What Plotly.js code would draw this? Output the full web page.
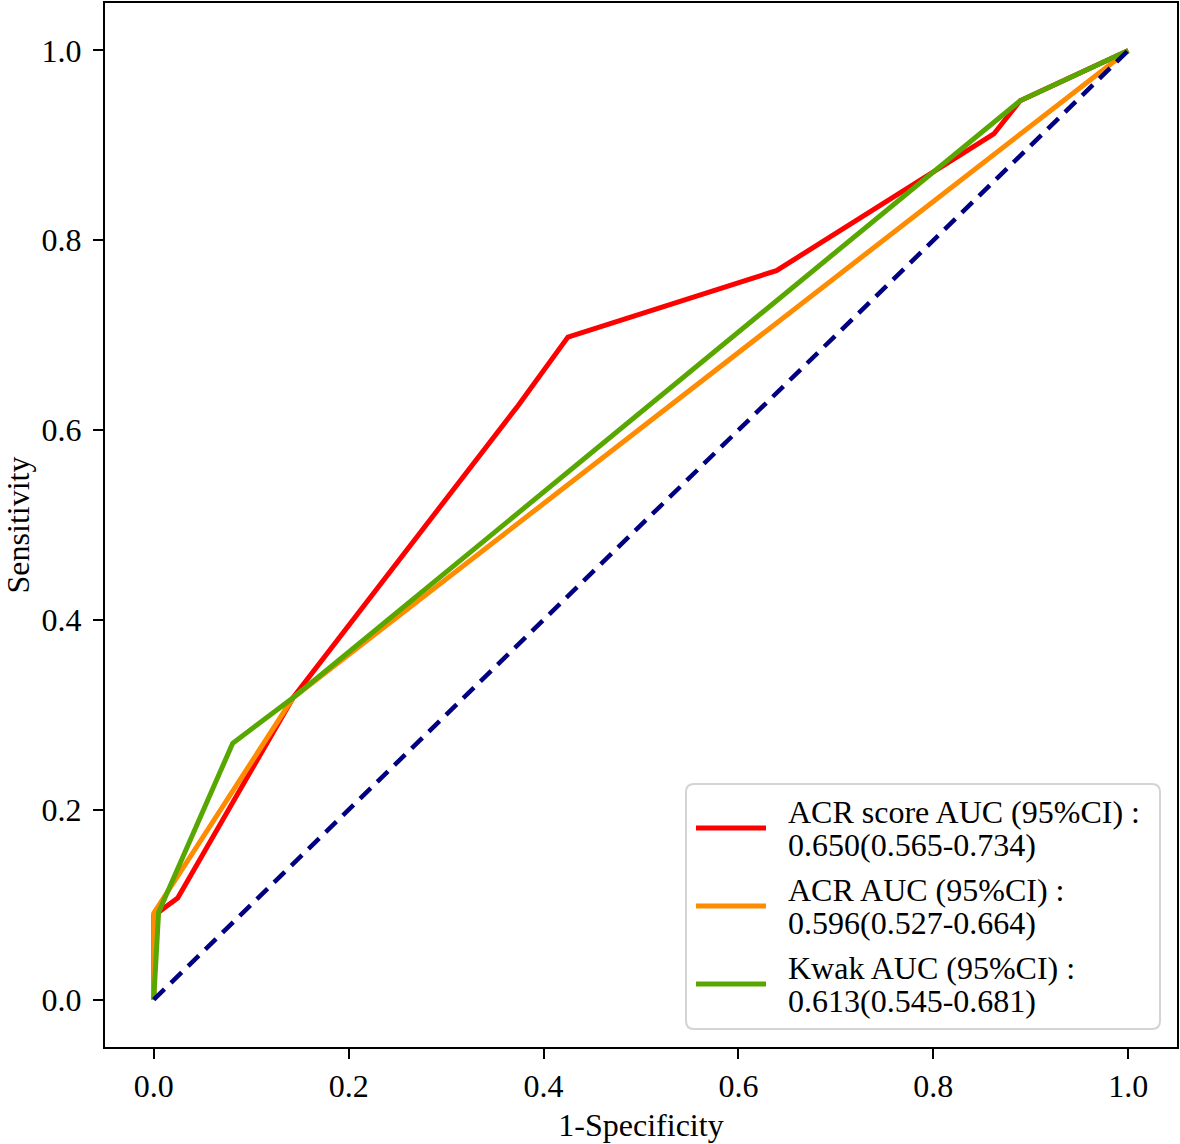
<!DOCTYPE html>
<html>
<head>
<meta charset="utf-8">
<script src="https://cdn.plot.ly/plotly-3.0.1.min.js"></script>
<style>html,body{margin:0;padding:0;background:#fff;}#chart{width:1180px;height:1144px;}</style>
</head>
<body>
<div id="chart"></div>
<script>
// ROC curve data
const scoreFpr = [0, 0, 0.010, 0.0246, 0.143, 0.374, 0.425, 0.639, 0.862, 0.889, 1];
const scoreTpr = [0, 0.088, 0.096, 0.107, 0.318, 0.626, 0.698, 0.768, 0.912, 0.947, 1];
const acrFpr = [0, 0, 0.143, 1];
const acrTpr = [0, 0.091, 0.318, 1];
const kwakFpr = [0, 0.005, 0.081, 0.143, 0.889, 1];
const kwakTpr = [0, 0.092, 0.270, 0.318, 0.947, 1];
const diagX = [0, 1];
const diagY = [0, 1];
const seriesLabels = ['ACR score AUC (95%CI) :', 'ACR AUC (95%CI) :', 'Kwak AUC (95%CI) :'];
const seriesAuc = ['0.650(0.565-0.734)', '0.596(0.527-0.664)', '0.613(0.545-0.681)'];
const seriesColors = ['#ff0000', '#ff8c00', '#58a700'];
const tickVals = [0, 0.2, 0.4, 0.6, 0.8, 1.0];
const tickText = ['0.0', '0.2', '0.4', '0.6', '0.8', '1.0'];

const FONT = 'Liberation Serif, Times New Roman, serif';
const FS = 32;

// plot-area geometry (pixels) used to place the hand-built legend
const W = 1180, H = 1144;
const M = {l: 105, r: 3, t: 3, b: 97};
const PW = W - M.l - M.r, PH = H - M.t - M.b;
const px = v => (v - M.l) / PW;
const py = v => (H - M.b - v) / PH;

const traces = [
  {x: scoreFpr, y: scoreTpr, mode: 'lines', name: seriesLabels[0], line: {color: seriesColors[0], width: 5}},
  {x: acrFpr, y: acrTpr, mode: 'lines', name: seriesLabels[1], line: {color: seriesColors[1], width: 5}},
  {x: kwakFpr, y: kwakTpr, mode: 'lines', name: seriesLabels[2], line: {color: seriesColors[2], width: 5}},
  {x: diagX, y: diagY, mode: 'lines', line: {color: '#000080', width: 4.5, dash: '15px,9px'}}
];

const axisCommon = {
  range: [-0.05, 1.05],
  tickvals: tickVals,
  ticktext: tickText,
  ticks: 'outside',
  ticklen: 10,
  tickwidth: 2,
  tickcolor: '#000',
  showline: true,
  linecolor: '#000',
  linewidth: 2,
  mirror: true,
  showgrid: false,
  zeroline: false,
  tickfont: {family: FONT, size: FS, color: '#000'}
};

// legend box (rounded) and items
const bx0 = px(686), bx1 = px(1160), by0 = py(1029), by1 = py(784);
const rx = 8 / PW, ry = 8 / PH;
const boxPath = `M${bx0 + rx},${by0} L${bx1 - rx},${by0} Q${bx1},${by0} ${bx1},${by0 + ry} ` +
  `L${bx1},${by1 - ry} Q${bx1},${by1} ${bx1 - rx},${by1} L${bx0 + rx},${by1} Q${bx0},${by1} ${bx0},${by1 - ry} ` +
  `L${bx0},${by0 + ry} Q${bx0},${by0} ${bx0 + rx},${by0} Z`;

const shapes = [{
  type: 'path', xref: 'paper', yref: 'paper', path: boxPath,
  line: {color: '#d4d4d4', width: 2}, fillcolor: 'rgba(255,255,255,0.85)', layer: 'above'
}];
const annotations = [];
const itemCenters = [828, 906, 984];
seriesLabels.forEach((lab, i) => {
  const c = itemCenters[i];
  shapes.push({
    type: 'line', xref: 'paper', yref: 'paper',
    x0: px(696), x1: px(766), y0: py(c), y1: py(c),
    line: {color: seriesColors[i], width: 5}, layer: 'above'
  });
  annotations.push({
    xref: 'paper', yref: 'paper', x: px(786), y: py(c - 16), xanchor: 'left', yanchor: 'middle',
    text: lab, showarrow: false, font: {family: FONT, size: FS, color: '#000'}
  });
  annotations.push({
    xref: 'paper', yref: 'paper', x: px(786), y: py(c + 17), xanchor: 'left', yanchor: 'middle',
    text: seriesAuc[i], showarrow: false, font: {family: FONT, size: FS, color: '#000'}
  });
});

const layout = {
  width: W,
  height: H,
  margin: M,
  paper_bgcolor: '#fff',
  plot_bgcolor: '#fff',
  font: {family: FONT, size: FS, color: '#000'},
  showlegend: false,
  xaxis: Object.assign({}, axisCommon, {
    title: {text: '1-Specificity', font: {family: FONT, size: FS, color: '#000'}, standoff: 10}
  }),
  yaxis: Object.assign({}, axisCommon, {
    ticklabelstandoff: 5,
    title: {text: 'Sensitivity', font: {family: FONT, size: FS, color: '#000'}, standoff: 12}
  }),
  shapes: shapes,
  annotations: annotations
};

Plotly.newPlot('chart', traces, layout, {displayModeBar: false, staticPlot: true});
</script>
</body>
</html>
